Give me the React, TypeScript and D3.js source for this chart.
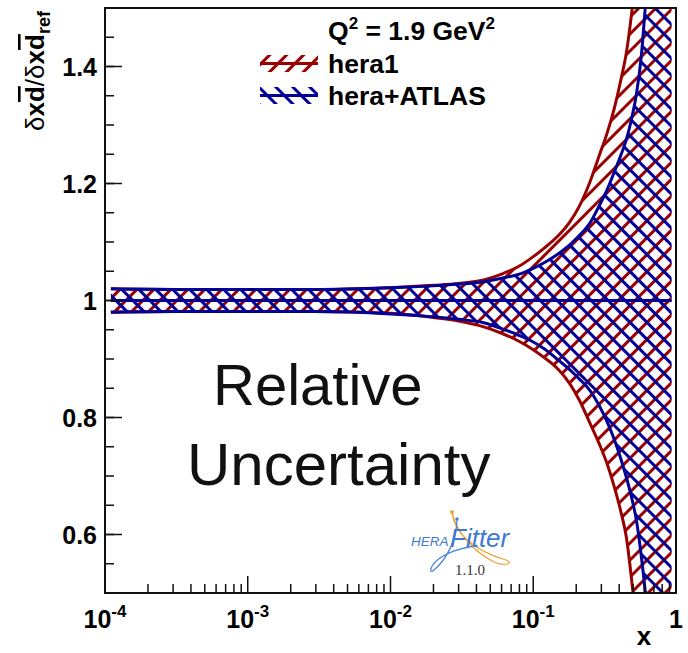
import React from 'react';
import * as d3 from 'd3';

// x grid (log axis) and relative uncertainty bands
const xGrid = [1.1e-4, 3e-4, 1e-3, 3e-3, 0.01, 0.02, 0.03, 0.045, 0.06, 0.08, 0.1, 0.12, 0.15, 0.18, 0.21, 0.25, 0.29, 0.33, 0.37, 0.41, 0.45, 0.49, 0.53, 0.57, 0.61, 0.65, 0.7, 0.8, 0.93];
const hera1Up = [1.020, 1.019, 1.019, 1.019, 1.022, 1.026, 1.029, 1.035, 1.045, 1.059, 1.075, 1.090, 1.111, 1.134, 1.161, 1.203, 1.248, 1.287, 1.329, 1.376, 1.425, 1.493, 1.57, 1.66, 1.76, 1.87, 2.0, 2.3, 2.7];
const hera1Dn = [0.980, 0.981, 0.981, 0.981, 0.978, 0.971, 0.965, 0.955, 0.944, 0.930, 0.916, 0.902, 0.882, 0.858, 0.830, 0.790, 0.755, 0.720, 0.681, 0.640, 0.594, 0.52, 0.44, 0.35, 0.25, 0.15, 0.0, -0.3, -0.7];
const atlasUp = [1.020, 1.019, 1.019, 1.019, 1.022, 1.025, 1.028, 1.032, 1.038, 1.045, 1.055, 1.065, 1.080, 1.095, 1.111, 1.133, 1.162, 1.190, 1.220, 1.248, 1.276, 1.312, 1.355, 1.415, 1.503, 1.59, 1.72, 2.0, 2.4];
const atlasDn = [0.980, 0.981, 0.981, 0.981, 0.977, 0.972, 0.968, 0.962, 0.952, 0.940, 0.929, 0.917, 0.898, 0.882, 0.866, 0.846, 0.820, 0.792, 0.762, 0.730, 0.697, 0.662, 0.622, 0.565, 0.50, 0.42, 0.30, 0.0, -0.4];

const xMajor = [1e-4, 1e-3, 1e-2, 1e-1, 1];
const xExp = ['-4', '-3', '-2', '-1', ''];
const yMajor = [0.6, 0.8, 1.0, 1.2, 1.4];
const yLabels = ['0.6', '0.8', '1', '1.2', '1.4'];

const W = 688;
const H = 653;
const RED = '#990000';
const BLUE = '#000099';
const FONT = '"Liberation Sans", Arial, Helvetica, sans-serif';

export default function App() {
  const x = d3.scaleLog().domain([1e-4, 1]).range([105, 676]);
  const y = d3.scaleLinear().domain([0.5, 1.5]).range([593, 8]);
  const [x0, x1] = x.range();
  const [yb, yt] = y.range();

  const band = (up: number[], dn: number[]) =>
    d3.area<number>()
      .x(d => x(d))
      .y0((_, i) => y(dn[i]))
      .y1((_, i) => y(up[i]))
      .curve(d3.curveMonotoneX)(xGrid) || '';
  const edge = (vals: number[]) =>
    d3.line<number>()
      .x(d => x(d))
      .y((_, i) => y(vals[i]))
      .curve(d3.curveMonotoneX)(xGrid) || '';

  const xMinor: number[] = [];
  for (let e = -4; e < 0; e++) for (let k = 2; k <= 9; k++) xMinor.push(k * Math.pow(10, e));
  const yMinor = d3.range(0.5, 1.5001, 0.05);

  return (
    <svg width={W} height={H} style={{ position: 'absolute', left: 0, top: 0, background: '#fff' }} fontFamily={FONT}>
      <defs>
        <clipPath id="plot"><rect x={x0} y={yt} width={x1 - x0} height={yb - yt} /></clipPath>
        <pattern id="hRed" patternUnits="userSpaceOnUse" width={12} height={12} patternTransform="rotate(45)">
          <rect x={0} y={0} width={3} height={12} fill={RED} />
        </pattern>
        <pattern id="hBlue" patternUnits="userSpaceOnUse" width={12} height={12} patternTransform="rotate(-45)">
          <rect x={0} y={0} width={3} height={12} fill={BLUE} />
        </pattern>
      </defs>
      <rect width={W} height={H} fill="#fff" />

      <g clipPath="url(#plot)">
        <path d={band(hera1Up, hera1Dn)} fill="url(#hRed)" />
        <path d={edge(hera1Up)} fill="none" stroke={RED} strokeWidth={3} />
        <path d={edge(hera1Dn)} fill="none" stroke={RED} strokeWidth={3} />
        <line x1={x(xGrid[0])} x2={x(xGrid[xGrid.length - 1])} y1={y(1)} y2={y(1)} stroke={RED} strokeWidth={3} />
        <path d={band(atlasUp, atlasDn)} fill="url(#hBlue)" />
        <path d={edge(atlasUp)} fill="none" stroke={BLUE} strokeWidth={3} />
        <path d={edge(atlasDn)} fill="none" stroke={BLUE} strokeWidth={3} />
        <line x1={x(xGrid[0])} x2={x(xGrid[xGrid.length - 1])} y1={y(1)} y2={y(1)} stroke={BLUE} strokeWidth={3} />
      </g>

      {/* frame */}
      <rect x={x0} y={yt} width={x1 - x0} height={yb - yt} fill="none" stroke="#111" strokeWidth={2} />

      {/* x ticks */}
      {xMajor.map(v => <line key={'xM' + v} x1={x(v)} x2={x(v)} y1={yb} y2={yb - 17} stroke="#111" strokeWidth={1.5} />)}
      {xMinor.map(v => <line key={'xm' + v} x1={x(v)} x2={x(v)} y1={yb} y2={yb - 9} stroke="#111" strokeWidth={1.5} />)}
      {xMajor.map((v, i) => (
        <text key={'xl' + v} x={x(v)} y={628} fontSize={25} fontWeight="bold" textAnchor="middle">
          {xExp[i] ? <><tspan>10</tspan><tspan dy={-11} fontSize={17}>{xExp[i]}</tspan></> : '1'}
        </text>
      ))}
      <text x={644} y={645} fontSize={26} fontWeight="bold" textAnchor="middle">x</text>

      {/* y ticks */}
      {yMajor.map(v => <line key={'yM' + v} x1={x0} x2={x0 + 17} y1={y(v)} y2={y(v)} stroke="#111" strokeWidth={1.5} />)}
      {yMinor.map(v => <line key={'ym' + v} x1={x0} x2={x0 + 9} y1={y(v)} y2={y(v)} stroke="#111" strokeWidth={1.5} />)}
      {yMajor.map((v, i) => (
        <text key={'yl' + v} x={97} y={y(v) + 9} fontSize={25} fontWeight="bold" textAnchor="end">{yLabels[i]}</text>
      ))}
      <text transform="translate(44,131) rotate(-90)" fontSize={26} fontWeight="bold">
        <tspan fontWeight="normal">δ</tspan><tspan>x</tspan><tspan textDecoration="overline">d</tspan><tspan fontWeight="normal">/δ</tspan><tspan>x</tspan><tspan textDecoration="overline">d</tspan><tspan dy={6} fontSize={18}>ref</tspan>
      </text>

      {/* legend */}
      <text x={328} y={40} fontSize={26.5} fontWeight="bold">
        <tspan>Q</tspan><tspan dy={-11} fontSize={17}>2</tspan><tspan dy={11}> = 1.9 GeV</tspan><tspan dy={-11} fontSize={17}>2</tspan>
      </text>
      <rect x={260} y={55} width={58} height={17} fill="url(#hRed)" />
      <line x1={260} x2={318} y1={63.5} y2={63.5} stroke={RED} strokeWidth={3} />
      <text x={328} y={72.5} fontSize={26.5} fontWeight="bold">hera1</text>
      <rect x={260} y={87} width={58} height={17} fill="url(#hBlue)" />
      <line x1={260} x2={318} y1={95.5} y2={95.5} stroke={BLUE} strokeWidth={3} />
      <text x={328} y={104.5} fontSize={26.5} fontWeight="bold">hera+ATLAS</text>

      {/* annotation */}
      <text x={213} y={405} fontSize={58} fill="#111">Relative</text>
      <text x={187} y={485} fontSize={60} fill="#111">Uncertainty</text>

      {/* HERAFitter logo */}
      <g fill="none" strokeWidth={1.3}>
        <path d="M452,512 C454,532 472,550 506,560 C514,563 506,567 494,562 C474,552 456,532 452,512" stroke="#f0a53a" />
        <path d="M457,519 C457,540 446,560 434,570 C428,575 430,565 440,558 C450,551 462,548 474,546" stroke="#4a86d8" />
      </g>
      <circle cx={452} cy={512} r={2} fill="#f0a53a" />
      <circle cx={457} cy={519} r={1.8} fill="#4a86d8" />
      <text x={411} y={546} fontSize={13.5} fontStyle="italic" fill="#3d7ad0">HERA</text>
      <text x={450} y={547} fontSize={26} fontStyle="italic" fill="#3d7ad0">Fitter</text>
      <text x={455} y={575} fontSize={15} fontFamily='"Liberation Serif", "DejaVu Serif", serif' fill="#333">1.1.0</text>
    </svg>
  );
}
